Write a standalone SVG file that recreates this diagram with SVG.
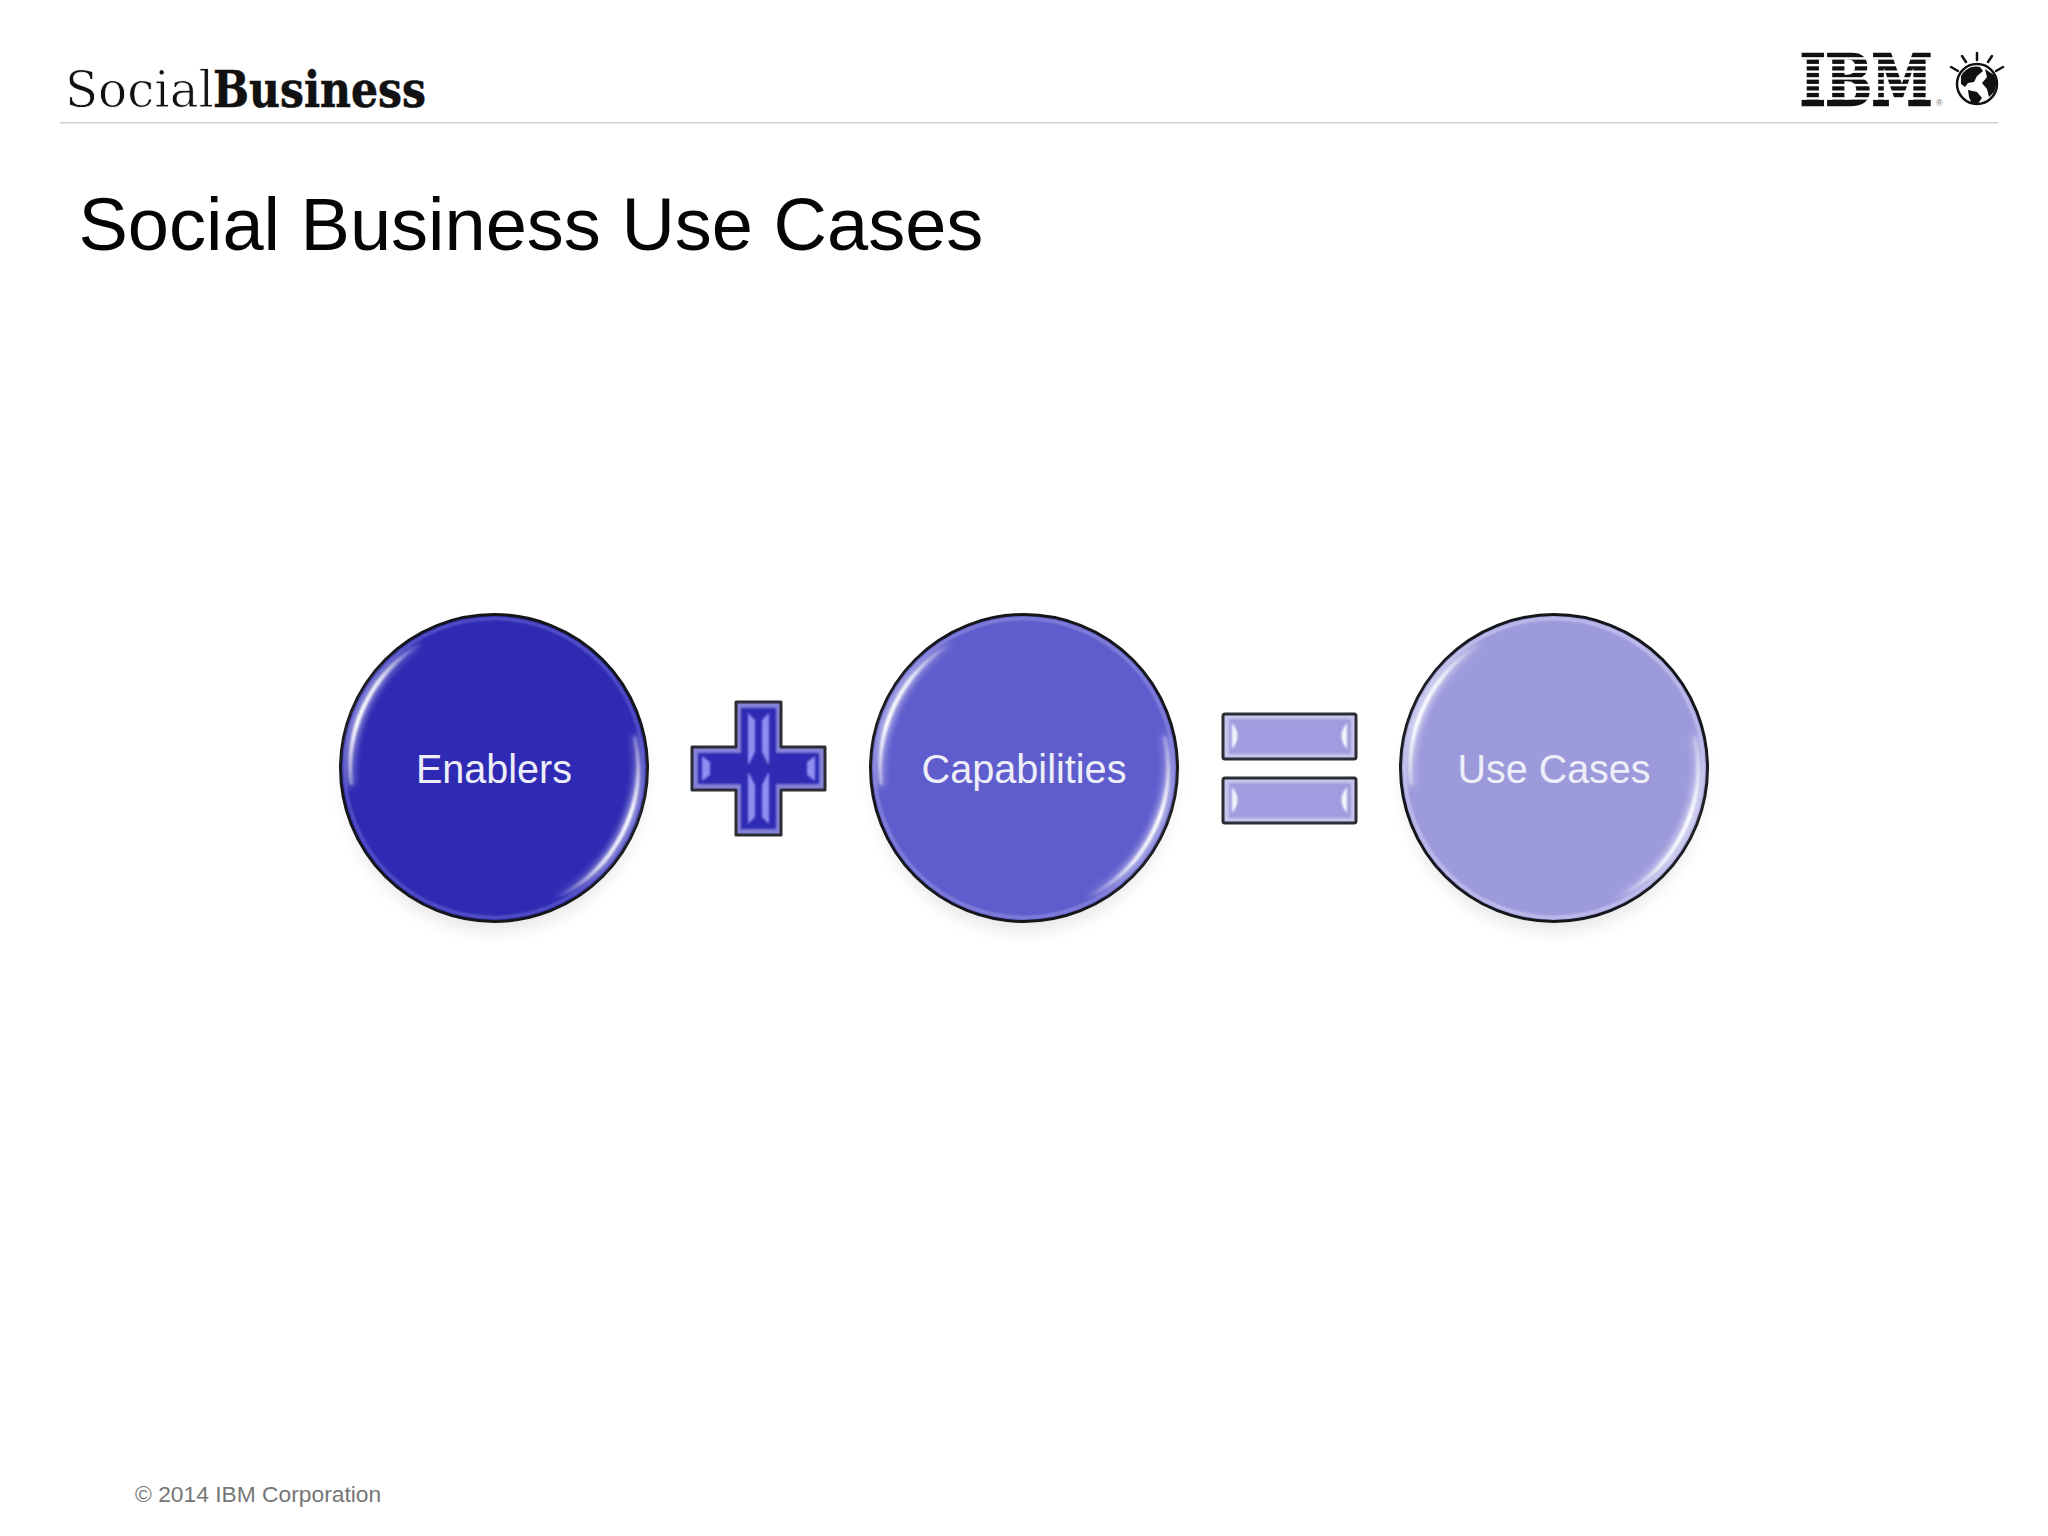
<svg xmlns="http://www.w3.org/2000/svg" width="2048" height="1536" viewBox="0 0 2048 1536">
<style>
text{font-family:"Liberation Sans",Arial,sans-serif}
.label{font-size:40px;fill:#eeeef8;text-anchor:middle}
.ring{stroke:#15151c;stroke-width:3}
.hi{fill:none;stroke-linecap:round}
.edge{stroke:#2c2c34;stroke-width:3;stroke-linejoin:round}
.facet{fill:#fff;opacity:.92;filter:url(#tiny)}
.bevel{fill:#8f8ff2;filter:url(#tiny)}
.logo{font-family:"DejaVu Serif",serif;fill:#111}
.stripe{fill:#fff}
</style>
<defs>
<filter id="soft" x="-30%" y="-30%" width="160%" height="160%"><feGaussianBlur stdDeviation="1.300"/></filter>
<filter id="wide" x="-30%" y="-30%" width="160%" height="160%"><feGaussianBlur stdDeviation="3"/></filter>
<filter id="tiny" x="-30%" y="-30%" width="160%" height="160%"><feGaussianBlur stdDeviation=".8"/></filter>
<filter id="shadow" x="-20%" y="-20%" width="140%" height="140%"><feGaussianBlur stdDeviation="9"/></filter>
<linearGradient id="g1a" gradientUnits="userSpaceOnUse" x1="-143" y1="15" x2="-70" y2="-125"><stop offset="0" stop-color="#fff" stop-opacity=".35"/><stop offset=".35" stop-color="#fff"/><stop offset=".65" stop-color="#fff" stop-opacity=".85"/><stop offset="1" stop-color="#fff" stop-opacity="0"/></linearGradient>
<linearGradient id="g1b" gradientUnits="userSpaceOnUse" x1="143" y1="-30" x2="60" y2="130"><stop offset="0" stop-color="#fff" stop-opacity=".25"/><stop offset=".4" stop-color="#fff"/><stop offset=".7" stop-color="#fff" stop-opacity=".8"/><stop offset="1" stop-color="#fff" stop-opacity="0"/></linearGradient>
<g id="rim">
<circle cy="14" r="148" fill="#000" opacity=".1" filter="url(#shadow)"/>
</g>
<g id="gloss">
<g filter="url(#wide)" opacity=".55">
<path class="hi" stroke-width="10" stroke="url(#g1a)" d="M-143 15A144 144 0 0 1-72 -125"/>
<path class="hi" stroke-width="10" stroke="url(#g1b)" d="M141 -30A144 144 0 0 1 62 130"/>
</g>
<g filter="url(#soft)">
<path class="hi" stroke-width="4" stroke="url(#g1a)" d="M-143 15A144 144 0 0 1-72 -125"/>
<path class="hi" stroke-width="4" stroke="url(#g1b)" d="M141 -30A144 144 0 0 1 62 130"/>
</g>
</g>
</defs>
<rect width="2048" height="1536" fill="#fff"/>

<g id="header">
<text class="logo" x="65" y="107" textLength="149" lengthAdjust="spacingAndGlyphs" style="font-size:50px" stroke="#fff" stroke-width=".9">Social</text>
<text class="logo" x="213" y="107" textLength="213" lengthAdjust="spacingAndGlyphs" style="font-size:50px;font-weight:bold" stroke="#111" stroke-width=".6">Business</text>
<rect x="60" y="122" width="1938" height="1.5" fill="#cfcfcf"/>
</g>

<g id="ibm-logo">
<text class="logo" transform="translate(1800 105) scale(.77 1)" textLength="172" lengthAdjust="spacingAndGlyphs" style="font-size:70px;font-weight:bold" stroke="#111" stroke-width="2.500">IBM</text>
<g class="stripe">
<rect x="1796" y="57.200" width="140" height="2.400"/><rect x="1796" y="63.900" width="140" height="2.400"/>
<rect x="1796" y="70.500" width="140" height="2.400"/><rect x="1796" y="77.200" width="140" height="2.400"/>
<rect x="1796" y="83.900" width="140" height="2.400"/><rect x="1796" y="90.500" width="140" height="2.400"/>
<rect x="1796" y="97.200" width="140" height="2.400"/>
</g>
<text x="1936" y="106" style="font-size:9px" fill="#777">®</text>
<circle cx="1977" cy="84" r="20" fill="#fff" stroke="#111" stroke-width="2.500"/>
<path fill="#111" d="M1961 76c4-8 13-11 19-9l3 4-6 5-3 6-6 1-3 4-4-3zM1985 69l9 6 3 8-3 9-5 5-2-8-5-6 5-6zM1968 90l9 2 5 6-5 7-5-1-3-7z"/>
<g stroke="#111" stroke-width="2.500" stroke-linecap="round">
<path d="M1977 53V60M1962 56L1966 62M1992 56L1988 62M1951 67L1958 71M2003 67L1996 71"/>
</g>
</g>

<text id="title" x="78.500" y="250" style="font-size:74px" fill="#050505">Social Business Use Cases</text>

<g id="enablers" transform="translate(494 768)">
<use href="#rim"/>
<circle r="153.500" fill="#2e2ab3"/>
<circle r="149.500" fill="none" stroke="#5654c8" stroke-width="3" filter="url(#tiny)"/>
<circle r="153.500" fill="none" class="ring"/>
<use href="#gloss"/>
<text class="label" y="15" textLength="156" lengthAdjust="spacingAndGlyphs">Enablers</text>
</g>

<g id="plus">
<path class="edge" fill="#8482d6" d="M736 702H781V747H825V790H781V835H736V790H692V747H736Z"/>
<path fill="#2e2ab3" d="M741 708H776V753H819V784H776V829H741V784H698V753H741Z" filter="url(#tiny)"/>
<path class="bevel" d="M748 713L755 720V752L749 764L748 764ZM769 713L762 720V752L768 764L769 764ZM748 824L755 817V785L749 773L748 773ZM769 824L762 817V785L768 773L769 773Z"/>
<path class="bevel" d="M702 756L710 762V775L702 781ZM815 756L807 762V775L815 781Z"/>
</g>

<g id="capabilities" transform="translate(1024 768)">
<use href="#rim"/>
<circle r="153.500" fill="#5f5dcd"/>
<circle r="149.500" fill="none" stroke="#8583dc" stroke-width="3" filter="url(#tiny)"/>
<circle r="153.500" fill="none" class="ring"/>
<use href="#gloss"/>
<text class="label" y="15" textLength="205" lengthAdjust="spacingAndGlyphs">Capabilities</text>
</g>

<g id="equals">
<rect class="edge" x="1223" y="714" width="133" height="45" rx="2" fill="#c6c5ec"/>
<rect x="1229" y="719" width="122" height="35" fill="#a09cdf" filter="url(#tiny)"/>
<rect class="edge" x="1223" y="778" width="133" height="45" rx="2" fill="#c6c5ec"/>
<rect x="1229" y="783" width="122" height="35" fill="#a09cdf" filter="url(#tiny)"/>
<g class="facet">
<path d="M1232 723Q1243 736 1232 749ZM1347 723Q1336 736 1347 749ZM1232 787Q1243 800 1232 813ZM1347 787Q1336 800 1347 813Z"/>
</g>
</g>

<g id="use-cases" transform="translate(1554 768)">
<use href="#rim"/>
<circle r="153.500" fill="#9d9adc"/>
<circle r="149.500" fill="none" stroke="#c3c1ec" stroke-width="3" filter="url(#tiny)"/>
<circle r="153.500" fill="none" class="ring"/>
<use href="#gloss"/>
<text class="label" y="15" textLength="193" lengthAdjust="spacingAndGlyphs">Use Cases</text>
</g>

<text id="copyright" x="135" y="1502" style="font-size:22.800px" fill="#767676">© 2014 IBM Corporation</text>
</svg>
